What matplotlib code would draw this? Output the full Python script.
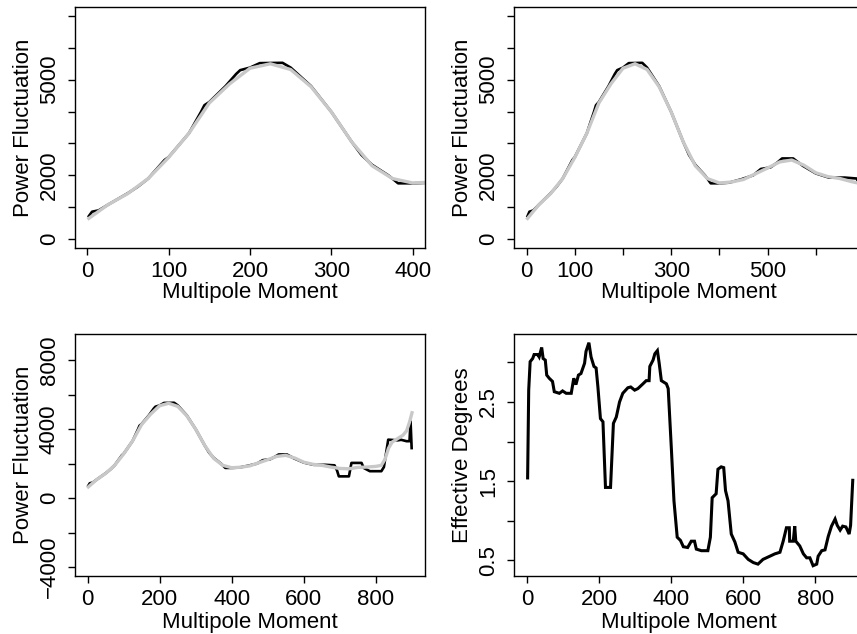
import matplotlib
matplotlib.use("Agg")
import matplotlib.pyplot as plt

plt.rcParams['font.family'] = ['Liberation Sans', 'DejaVu Sans']
plt.rcParams['font.size'] = 16

# black fit of the power spectrum (multipole moment, power fluctuation)
ell_fit = [2, 6, 14, 25, 50, 62, 75, 95, 100, 125, 140, 144, 150, 170, 183, 188,
           200, 212, 240, 250, 275, 300, 325, 337, 350, 370, 382, 400, 420, 446,
           470, 486, 506, 520, 530, 553, 573, 600, 627, 660, 685, 692, 697, 725,
           732, 760, 766, 783, 815, 822, 834, 860, 870, 885, 893, 896, 899]
power_fit = [720, 860, 900, 1070, 1440, 1640, 1900, 2480, 2570, 3320, 4000, 4200,
             4300, 4800, 5180, 5300, 5380, 5520, 5530, 5380, 4800, 3990, 3050, 2640,
             2330, 2000, 1750, 1750, 1770, 1880, 2000, 2200, 2250, 2400, 2530, 2530,
             2300, 2060, 1930, 1930, 1900, 1600, 1260, 1260, 2040, 2040, 1750, 1560,
             1560, 1800, 3390, 3350, 3380, 3300, 3300, 4450, 2900]

# grey smooth of the power spectrum
ell_smooth = [2, 25, 50, 75, 100, 125, 150, 175, 200, 225, 250, 275, 300, 325, 350,
              375, 400, 425, 450, 475, 500, 525, 550, 575, 600, 625, 650, 675, 700,
              725, 750, 775, 800, 815, 825, 835, 845, 860, 875, 885, 893, 900]
power_smooth = [650, 1070, 1430, 1900, 2560, 3320, 4270, 4870, 5360, 5500, 5320,
                4780, 3990, 3050, 2300, 1900, 1760, 1790, 1870, 2050, 2230, 2420,
                2480, 2320, 2080, 1960, 1900, 1800, 1720, 1700, 1780, 1800, 1840,
                1900, 2250, 2900, 3250, 3450, 3650, 3900, 4400, 4950]

# effective degrees of freedom
ell_df = [2, 5, 9, 16, 20, 30, 34, 41, 45, 51, 55, 62, 71, 76, 90, 99, 109, 123,
          130, 136, 143, 150, 160, 164, 172, 178, 186, 192, 197, 204, 211, 218,
          232, 240, 248, 257, 266, 280, 288, 299, 308, 322, 331, 339, 341, 350,
          355, 362, 367, 373, 387, 392, 401, 408, 417, 426, 434, 446, 456, 465,
          470, 484, 502, 509, 514, 525, 530, 539, 546, 551, 558, 567, 577, 586,
          600, 614, 628, 641, 655, 674, 688, 702, 711, 720, 728, 729, 739, 743,
          746, 757, 767, 776, 785, 794, 804, 808, 818, 827, 836, 845, 855, 861,
          869, 876, 885, 894, 898, 904]
deg_df = [1.54, 2.65, 3.01, 3.05, 3.10, 3.10, 3.07, 3.19, 3.05, 3.03, 2.84, 2.80,
          2.76, 2.63, 2.61, 2.64, 2.61, 2.61, 2.80, 2.72, 2.84, 2.86, 2.99, 3.14,
          3.25, 3.07, 2.95, 2.93, 2.69, 2.29, 2.25, 1.42, 1.42, 2.23, 2.31, 2.50,
          2.61, 2.68, 2.69, 2.65, 2.67, 2.73, 2.77, 2.77, 2.95, 3.03, 3.11, 3.15,
          2.99, 2.77, 2.73, 2.67, 1.89, 1.25, 0.79, 0.75, 0.67, 0.66, 0.74, 0.74,
          0.64, 0.62, 0.62, 0.79, 1.29, 1.34, 1.65, 1.68, 1.67, 1.38, 1.25, 0.83,
          0.73, 0.60, 0.58, 0.51, 0.47, 0.45, 0.51, 0.55, 0.58, 0.60, 0.74, 0.91,
          0.91, 0.74, 0.74, 0.93, 0.74, 0.68, 0.58, 0.53, 0.53, 0.43, 0.45, 0.55,
          0.62, 0.63, 0.80, 0.93, 1.02, 0.94, 0.88, 0.93, 0.92, 0.83, 0.94, 1.51]

fig = plt.figure(figsize=(8.57, 6.34), dpi=100)

W = 0.4084
axes = [
    fig.add_axes([0.0875, 0.6088, W, 0.3801]),
    fig.add_axes([0.5998, 0.6088, W, 0.3801]),
    fig.add_axes([0.0875, 0.0915, W, 0.3817]),
    fig.add_axes([0.6001, 0.0915, W, 0.3817]),
]


def style(ax, xticks, xlabels, yticks, ylabels, ylabel, xlab_y):
    ax.set_xticks(xticks)
    ax.set_xticklabels(xlabels)
    ax.set_yticks(yticks)
    ax.set_yticklabels(ylabels, rotation=90, va='center')
    ax.tick_params(length=5, width=1)
    ax.tick_params(axis='x', pad=4.5)
    ax.tick_params(axis='y', pad=6)
    for s in ax.spines.values():
        s.set_linewidth(1.0)
    ax.set_xlabel("Multipole Moment")
    ax.set_ylabel(ylabel)
    ax.xaxis.set_label_coords(0.5, xlab_y)
    ax.yaxis.set_label_coords(-0.118, 0.5)


def power_lines(ax):
    ax.plot(ell_fit, power_fit, color='black', lw=1.9, solid_joinstyle='round')
    ax.plot(ell_smooth, power_smooth, color='#c8c8c8', lw=2.4)


# top row: power spectrum on two x ranges
top_yt = [0, 1000, 2000, 3000, 4000, 5000, 6000, 7000]
top_yl = ['0', '', '2000', '', '', '5000', '', '']
for ax, xlim in zip(axes[:2], [(-15, 415), (-26, 700)]):
    power_lines(ax)
    ax.set_xlim(*xlim)
    ax.set_ylim(-280, 7280)

style(axes[0], [0, 100, 200, 300, 400], ['0', '100', '200', '300', '400'],
      top_yt, top_yl, "Power Fluctuation", -0.14)
style(axes[1], [0, 100, 200, 300, 400, 500, 600],
      ['0', '100', '', '300', '', '500', ''], top_yt, top_yl,
      "Power Fluctuation", -0.14)

# bottom left: full range
ax = axes[2]
power_lines(ax)
ax.set_xlim(-35, 936)
ax.set_ylim(-4520, 9520)
style(ax, [0, 200, 400, 600, 800], ['0', '200', '400', '600', '800'],
      [-4000, -2000, 0, 2000, 4000, 6000, 8000],
      ['\u22124000', '', '0', '', '4000', '', '8000'], "Power Fluctuation", -0.15)

# bottom right: effective degrees
ax = axes[3]
ax.plot(ell_df, deg_df, color='black', lw=2.2, solid_joinstyle='miter')
ax.set_xlim(-35, 936)
ax.set_ylim(0.30, 3.36)
style(ax, [0, 200, 400, 600, 800], ['0', '200', '400', '600', '800'],
      [0.5, 1.0, 1.5, 2.0, 2.5, 3.0], ['0.5', '', '1.5', '', '2.5', ''],
      "Effective Degrees", -0.15)

fig.savefig("out.png", dpi=100)
